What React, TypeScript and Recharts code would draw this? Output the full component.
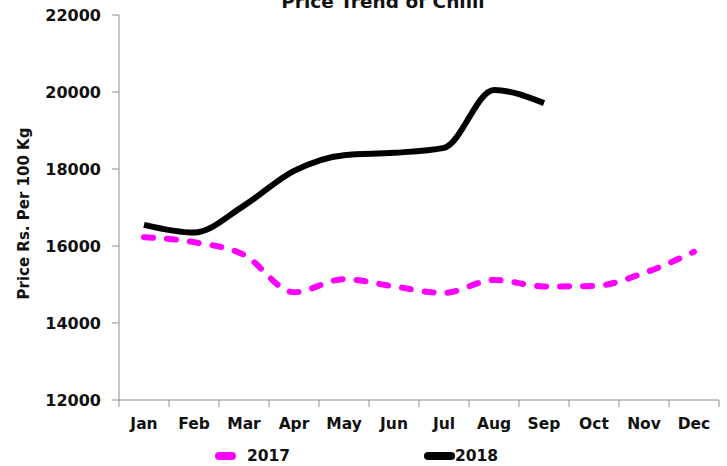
import { LineChart, Line, XAxis, YAxis, Legend } from 'recharts'

const months = ['Jan', 'Feb', 'Mar', 'Apr', 'May', 'Jun', 'Jul', 'Aug', 'Sep', 'Oct', 'Nov', 'Dec']
const price2017 = [16230, 16100, 15770, 14800, 15140, 14950, 14780, 15120, 14950, 14960, 15300, 15850]
const price2018 = [16550, 16350, 17050, 17950, 18360, 18420, 18550, 20050, 19710, null, null, null]
const yTicks = [12000, 14000, 16000, 18000, 20000, 22000]

const data = months.map((m, i) => ({ month: m, '2017': price2017[i], '2018': price2018[i] }))

const FONT = '"DejaVu Sans", Verdana, sans-serif'
const AXIS = '#8c8c8c'
const HALF_BAND = 25

function MonthTick(props: any) {
  const { x, y, payload, index } = props
  return (
    <g>
      <line x1={x - HALF_BAND} y1={y} x2={x - HALF_BAND} y2={y + 7} stroke={AXIS} />
      {index === months.length - 1 && (
        <line x1={x + HALF_BAND} y1={y} x2={x + HALF_BAND} y2={y + 7} stroke={AXIS} />
      )}
      <text x={x} y={y + 29} textAnchor="middle" fontFamily={FONT} fontWeight="bold" fontSize={15.5} fill="#111">
        {payload.value}
      </text>
    </g>
  )
}

function LegendBox(props: any) {
  const items = props.payload || []
  const spots = [{ sym: 215, text: 247 }, { sym: 424, text: 455 }]
  return (
    <div style={{ position: 'relative', width: 727, height: 36 }}>
      {items.map((it: any, i: number) => (
        <div key={it.value}>
          <div
            style={{
              position: 'absolute',
              left: spots[i].sym,
              top: 22,
              width: i === 0 ? 21 : 31,
              height: 8,
              borderRadius: 4,
              background: it.color,
            }}
          />
          <div
            style={{
              position: 'absolute',
              left: spots[i].text,
              top: 16,
              fontFamily: FONT,
              fontWeight: 'bold',
              fontSize: 15.5,
              color: '#111',
              lineHeight: '20px',
            }}
          >
            {it.value}
          </div>
        </div>
      ))}
    </div>
  )
}

export default function App() {
  return (
    <div style={{ position: 'absolute', left: 0, top: 0, width: 727, height: 466, background: '#fff' }}>
      <LineChart width={727} height={466} data={data} margin={{ top: 15, right: 8, bottom: 0, left: 0 }}>
        <text x={383} y={8} textAnchor="middle" fontFamily={FONT} fontWeight="bold" fontSize={18.5} fill="#111">
          Price Trend of Chilli
        </text>
        <XAxis
          dataKey="month"
          height={30}
          stroke={AXIS}
          padding={{ left: HALF_BAND, right: HALF_BAND }}
          tickLine={false}
          tickSize={0}
          tickMargin={0}
          interval={0}
          tick={<MonthTick />}
        />
        <YAxis
          width={119}
          domain={[12000, 22000]}
          ticks={yTicks}
          stroke={AXIS}
          tickSize={7}
          tickMargin={11}
          tick={{ fontFamily: FONT, fontWeight: 'bold', fontSize: 16, fill: '#111' }}
          label={({ viewBox }: any) => (
            <text
              x={29}
              y={viewBox.y + viewBox.height / 2 + 6}
              transform={`rotate(-90 29 ${viewBox.y + viewBox.height / 2 + 6})`}
              textAnchor="middle"
              fontFamily={FONT}
              fontWeight="bold"
              fontSize={15}
              fill="#111"
            >
              Price Rs. Per 100 Kg
            </text>
          )}
        />
        <Legend verticalAlign="bottom" content={<LegendBox />} wrapperStyle={{ left: 0, width: 727, bottom: 0 }} />
        <Line
          type="monotone"
          dataKey="2017"
          stroke="#ff00ff"
          strokeWidth={6}
          strokeDasharray="9 14"
          strokeLinecap="round"
          dot={false}
          isAnimationActive={false}
        />
        <Line
          type="monotone"
          dataKey="2018"
          stroke="#000"
          strokeWidth={6}
          dot={false}
          connectNulls={false}
          isAnimationActive={false}
        />
      </LineChart>
    </div>
  )
}
